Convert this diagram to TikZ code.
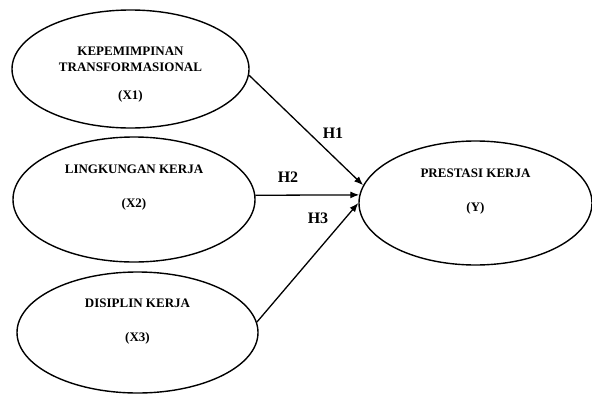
\documentclass[tikz,border=0pt]{standalone}
\usepackage{fontspec}
\setmainfont{Liberation Serif}
\usepackage{tikz}
\usetikzlibrary{arrows.meta,shapes.geometric}

\begin{document}
\begin{tikzpicture}[
            x=1pt, y=-1pt,
            >={Latex[length=9pt,width=7pt]},
            var/.style={ellipse, draw, line width=1.4pt, inner sep=0pt},
            var_txt/.style={font=\bfseries\fontsize{13}{15}\selectfont, inner sep=0pt},
            hyp/.style={->, line width=1.3pt},
            hyp_label/.style={font=\bfseries\fontsize{16}{18}\selectfont, inner sep=0pt}
        ]
        \useasboundingbox (0,0) rectangle (592,394);

        % Independent variables
        \node[var, minimum width=237pt, minimum height=118pt] (x1) at (130.5,69) {};
        \node[var, minimum width=242pt, minimum height=125pt] (x2) at (134,199.5) {};
        \node[var, minimum width=241pt, minimum height=121pt] (x3) at (137.5,332.5) {};

        % Dependent variable
        \node[var, minimum width=233pt, minimum height=124pt] (y) at (475.5,203) {};

        % Texts inside the ellipses
        \node[var_txt] (x1a) at (130.5,51) {KEPEMIMPINAN};
        \node[var_txt] (x1b) at (130.5,67) {TRANSFORMASIONAL};
        \node[var_txt] (x1c) at (130.5,96) {(X1)};

        \node[var_txt] (x2a) at (134,169) {LINGKUNGAN KERJA};
        \node[var_txt] (x2b) at (134,204) {(X2)};

        \node[var_txt] (x3a) at (137.5,303) {DISIPLIN KERJA};
        \node[var_txt] (x3b) at (137.5,338) {(X3)};

        \node[var_txt] (ya) at (475.5,173) {PRESTASI KERJA};
        \node[var_txt] (yb) at (475.5,208.5) {(Y)};

        % Hypotheses
        \draw[hyp] (x1.-3.5) -- (y.171.5);
        \draw[hyp] (x2.2) -- (y.176);
        \draw[hyp] (x3.5.5) -- (y.180);

        \node[hyp_label] (h1) at (333,133) {H1};
        \node[hyp_label] (h2) at (288,177) {H2};
        \node[hyp_label] (h3) at (318,218) {H3};

    \end{tikzpicture}
\end{document}
